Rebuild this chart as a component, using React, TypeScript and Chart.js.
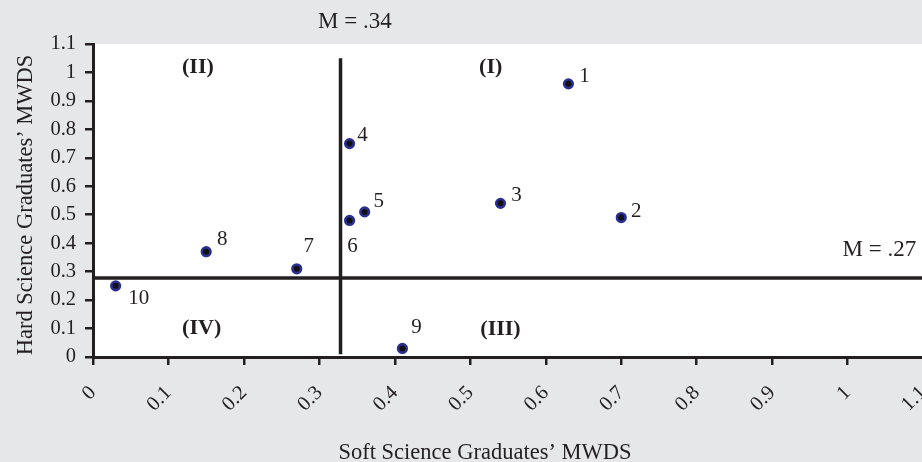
import React, { useEffect, useRef } from "react";
import { Chart, registerables } from "chart.js";

Chart.register(...registerables);

// ---- data ----
const POINT_LABELS = ["1", "2", "3", "4", "5", "6", "7", "8", "9", "10"];
const SOFT_MWDS = [0.63, 0.7, 0.54, 0.34, 0.36, 0.34, 0.27, 0.15, 0.41, 0.03];
const HARD_MWDS = [0.96, 0.49, 0.54, 0.75, 0.51, 0.48, 0.31, 0.37, 0.03, 0.25];

const X_TICKS = [0, 0.1, 0.2, 0.3, 0.4, 0.5, 0.6, 0.7, 0.8, 0.9, 1, 1.1];
const Y_TICKS = [0, 0.1, 0.2, 0.3, 0.4, 0.5, 0.6, 0.7, 0.8, 0.9, 1, 1.1];
const X_TICK_LABELS = ["0", "0.1", "0.2", "0.3", "0.4", "0.5", "0.6", "0.7", "0.8", "0.9", "1", "1.1"];
const Y_TICK_LABELS = ["0", "0.1", "0.2", "0.3", "0.4", "0.5", "0.6", "0.7", "0.8", "0.9", "1", "1.1"];

const MEAN_SOFT = 0.328;
const MEAN_SOFT_SPAN = [0.01, 1.05];
const MEAN_SOFT_LABEL = "M = .34";
const MEAN_SOFT_LABEL_AT = [0.347, 1.177];

const MEAN_HARD = 0.278;
const MEAN_HARD_SPAN = [0, 1.1];
const MEAN_HARD_LABEL = "M = .27";
const MEAN_HARD_LABEL_AT = [1.042, 0.377];

const QUADRANT_LABELS = ["(I)", "(II)", "(III)", "(IV)"];
const QUADRANT_X = [0.527, 0.139, 0.54, 0.144];
const QUADRANT_Y = [1.019, 1.019, 0.096, 0.1];

const X_TITLE = "Soft Science Graduates\u2019 MWDS";
const Y_TITLE = "Hard Science Graduates\u2019 MWDS";

// ---- presentation ----
const INK = "#231f20";
const PAGE_BG = "#e6e7e9";
const SERIF = "'Liberation Serif', 'Times New Roman', serif";
// pixel offsets of each point's number label from its marker
const LABEL_OFFSETS: [number, number][] = [
  [16, -7], [15, -6], [16, -8], [13, -8], [14, -10],
  [3, 26], [12, -22], [16, -12], [14, -21], [23, 13],
];

const decorPlugin = {
  id: "decor",
  beforeDraw(chart: any) {
    const { ctx, chartArea: a, width, height } = chart;
    ctx.save();
    ctx.fillStyle = PAGE_BG;
    ctx.fillRect(0, 0, width, height);
    ctx.fillStyle = "#ffffff";
    ctx.fillRect(a.left, a.top, a.right - a.left, a.bottom - a.top);
    ctx.restore();
  },
  afterDraw(chart: any) {
    const { ctx } = chart;
    const xs = chart.scales.x;
    const ys = chart.scales.y;
    ctx.save();
    ctx.fillStyle = INK;
    ctx.textAlign = "center";
    ctx.textBaseline = "middle";

    // point numbers
    ctx.font = `21px ${SERIF}`;
    POINT_LABELS.forEach((lab, i) => {
      const px = xs.getPixelForValue(SOFT_MWDS[i]);
      const py = ys.getPixelForValue(HARD_MWDS[i]);
      ctx.fillText(lab, px + LABEL_OFFSETS[i][0], py + LABEL_OFFSETS[i][1]);
    });

    // quadrant labels
    ctx.font = `bold 22px ${SERIF}`;
    QUADRANT_LABELS.forEach((lab, i) => {
      ctx.fillText(lab, xs.getPixelForValue(QUADRANT_X[i]), ys.getPixelForValue(QUADRANT_Y[i]));
    });

    // mean labels
    ctx.font = `23px ${SERIF}`;
    ctx.fillText(MEAN_SOFT_LABEL, xs.getPixelForValue(MEAN_SOFT_LABEL_AT[0]), ys.getPixelForValue(MEAN_SOFT_LABEL_AT[1]));
    ctx.fillText(MEAN_HARD_LABEL, xs.getPixelForValue(MEAN_HARD_LABEL_AT[0]), ys.getPixelForValue(MEAN_HARD_LABEL_AT[1]));

    // axis titles
    ctx.font = `22.5px ${SERIF}`;
    ctx.textBaseline = "alphabetic";
    ctx.fillText(X_TITLE, 485, 459);
    ctx.save();
    ctx.translate(32, 205);
    ctx.rotate(-Math.PI / 2);
    ctx.fillText(Y_TITLE, 0, 0);
    ctx.restore();
    ctx.restore();
  },
};

export default function App() {
  const ref = useRef<HTMLCanvasElement | null>(null);

  useEffect(() => {
    const canvas = ref.current;
    if (!canvas) return;
    const chart = new Chart(canvas, {
      type: "scatter",
      data: {
        datasets: [
          {
            type: "line",
            data: [
              { x: MEAN_SOFT, y: MEAN_SOFT_SPAN[0] },
              { x: MEAN_SOFT, y: MEAN_SOFT_SPAN[1] },
            ],
            showLine: true,
            borderColor: INK,
            borderWidth: 3.5,
            pointRadius: 0,
            fill: false,
            order: 2,
          } as any,
          {
            type: "line",
            data: [
              { x: MEAN_HARD_SPAN[0], y: MEAN_HARD },
              { x: MEAN_HARD_SPAN[1], y: MEAN_HARD },
            ],
            showLine: true,
            borderColor: INK,
            borderWidth: 3.5,
            pointRadius: 0,
            fill: false,
            order: 2,
          } as any,
          {
            data: SOFT_MWDS.map((x, i) => ({ x, y: HARD_MWDS[i] })),
            pointRadius: 4.3,
            pointBorderWidth: 2.6,
            backgroundColor: "#111111",
            borderColor: "#2a2f92",
            order: 1,
          },
        ],
      },
      options: {
        animation: false,
        responsive: false,
        devicePixelRatio: 1,
        layout: { padding: { top: 44, right: 6, left: 0, bottom: 0 } },
        plugins: { legend: { display: false }, tooltip: { enabled: false } },
        scales: {
          x: {
            type: "linear",
            min: 0,
            max: 1.1,
            afterBuildTicks: (s: any) => {
              s.ticks = X_TICKS.map((v) => ({ value: v }));
            },
            afterFit: (s: any) => {
              s.height = 105;
              s.paddingLeft = 0;
              s.paddingRight = 0;
            },
            ticks: {
              autoSkip: false,
              minRotation: 45,
              maxRotation: 45,
              padding: 16,
              color: INK,
              font: { family: SERIF, size: 20.5 },
              callback: (_v: any, i: number) => X_TICK_LABELS[i],
            },
            grid: {
              drawOnChartArea: false,
              drawTicks: true,
              tickLength: 8,
              color: INK,
              lineWidth: 2.5,
            },
            border: { display: true, color: INK, width: 3 },
          },
          y: {
            type: "linear",
            min: 0,
            max: 1.1,
            afterBuildTicks: (s: any) => {
              s.ticks = Y_TICKS.map((v) => ({ value: v }));
            },
            afterFit: (s: any) => {
              s.width = 93;
              s.paddingTop = 0;
              s.paddingBottom = 0;
            },
            ticks: {
              autoSkip: false,
              padding: 9,
              color: INK,
              font: { family: SERIF, size: 20.5 },
              callback: (_v: any, i: number) => Y_TICK_LABELS[i],
            },
            grid: {
              drawOnChartArea: false,
              drawTicks: true,
              tickLength: 8,
              color: INK,
              lineWidth: 2.5,
            },
            border: { display: true, color: INK, width: 3 },
          },
        },
      },
      plugins: [decorPlugin],
    });
    return () => chart.destroy();
  }, []);

  return (
    <div
      style={{
        position: "fixed",
        left: 0,
        top: 0,
        width: 922,
        height: 462,
        overflow: "hidden",
        background: PAGE_BG,
      }}
    >
      <canvas ref={ref} width={930} height={462} style={{ display: "block" }} />
    </div>
  );
}
